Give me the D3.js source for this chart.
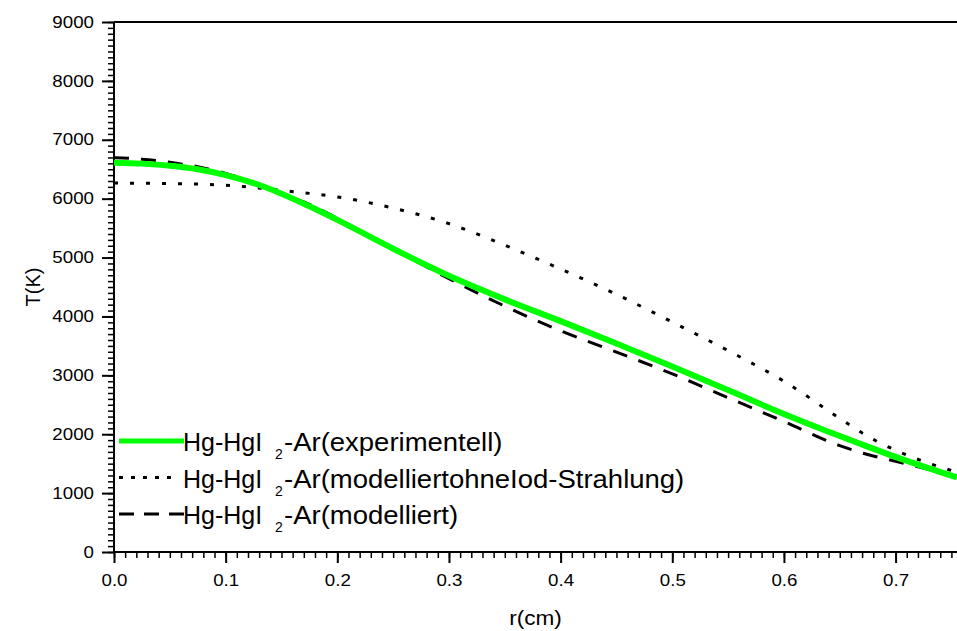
<html>
<head>
<script src="https://cdnjs.cloudflare.com/ajax/libs/d3/7.8.5/d3.min.js"></script>
<style>
body { margin: 0; background: white; }
text { font-family: Arial, "Liberation Sans", sans-serif; }
</style>
</head>
<body></body>
<script>
// data
var rValues = [0, 0.025, 0.05, 0.075, 0.1, 0.125, 0.15, 0.175, 0.2, 0.25, 0.3, 0.35, 0.4, 0.45, 0.5, 0.55, 0.6, 0.65, 0.675, 0.7, 0.755];
var tExperimentell = [6611, 6595, 6560, 6500, 6400, 6265, 6085, 5870, 5640, 5150, 4690, 4290, 3920, 3540, 3150, 2750, 2345, 1970, 1790, 1615, 1265];
var tOhneIod = [6265, 6262, 6257, 6248, 6228, 6190, 6140, 6090, 6030, 5840, 5575, 5210, 4805, 4375, 3905, 3420, 2900, 2270, 1965, 1728, 1355];
var tModelliert = [6695, 6670, 6617, 6543, 6430, 6278, 6085, 5905, 5665, 5150, 4640, 4175, 3755, 3395, 3025, 2620, 2215, 1806, 1655, 1540, 1282];
var xTicks = [0, 0.1, 0.2, 0.3, 0.4, 0.5, 0.6, 0.7];
var yTicks = [0, 1000, 2000, 3000, 4000, 5000, 6000, 7000, 8000, 9000];
var legendLabels = ["-Ar(experimentell)", "-Ar(modelliertohneIod-Strahlung)", "-Ar(modelliert)"];

var screen = {width: 957, height: 631};
var plot = {left: 114, right: 957, top: 22, bottom: 552};
var stretch = 1.17; // tick labels in the picture are drawn a bit wide

var svg = d3.select("body").append("svg")
  .attr("width", screen.width)
  .attr("height", screen.height);

var x = d3.scaleLinear().domain([0, 0.755]).range([plot.left, plot.right]);
var y = d3.scaleLinear().domain([0, 9000]).range([plot.bottom, plot.top]);

var minorX = d3.range(0, 0.7551, 0.01).map(function(v) { return +v.toFixed(2); });
var minorY = d3.range(0, 9001, 100);

function styleAxis(g, width) {
  g.select(".domain").remove();
  g.selectAll("line").attr("stroke", "black").attr("stroke-width", width);
  g.selectAll("text").attr("fill", "black").style("font-size", "16px");
}

// minor ticks
svg.append("g").attr("transform", "translate(0," + plot.bottom + ")")
  .call(d3.axisBottom(x).tickValues(minorX).tickSize(6).tickFormat(""))
  .call(styleAxis, 1.5);
svg.append("g").attr("transform", "translate(" + plot.left + ",0)")
  .call(d3.axisLeft(y).tickValues(minorY).tickSize(6).tickFormat(""))
  .call(styleAxis, 1.5);

// major ticks
svg.append("g").attr("transform", "translate(0," + plot.bottom + ")")
  .call(d3.axisBottom(x).tickValues(xTicks).tickSize(11).tickPadding(12).tickFormat(d3.format(".1f")))
  .call(styleAxis, 2)
  .selectAll("text").attr("transform", "scale(" + stretch + ",1)");
svg.append("g").attr("transform", "translate(" + plot.left + ",0)")
  .call(d3.axisLeft(y).tickValues(yTicks).tickSize(12).tickPadding(8).tickFormat(d3.format("d")))
  .call(styleAxis, 2)
  .selectAll("text").attr("x", -20 / stretch).attr("transform", "scale(" + stretch + ",1)");

// frame lines
svg.append("line").attr("x1", plot.left).attr("x2", plot.right).attr("y1", plot.bottom).attr("y2", plot.bottom)
  .attr("stroke", "black").attr("stroke-width", 2);
svg.append("line").attr("x1", plot.left).attr("x2", plot.right).attr("y1", plot.top).attr("y2", plot.top)
  .attr("stroke", "black").attr("stroke-width", 2);
svg.append("line").attr("x1", plot.left).attr("x2", plot.left).attr("y1", plot.top).attr("y2", plot.bottom)
  .attr("stroke", "black").attr("stroke-width", 2);

// axis titles
svg.append("text").attr("transform", "translate(" + (plot.left + plot.right) / 2 + ",625) scale(1.13,1)")
  .attr("text-anchor", "middle").style("font-size", "20px").text("r(cm)");
svg.append("text").attr("transform", "translate(40," + (plot.top + plot.bottom) / 2 + ") rotate(-90)")
  .attr("text-anchor", "middle").style("font-size", "20px").text("T(K)");

var series = [
  {values: tOhneIod, color: "black", width: 3, dash: "4,12", legendDash: "4,8"},
  {values: tModelliert, color: "black", width: 3, dash: "15,12", legendDash: "15,10"},
  {values: tExperimentell, color: "#00ff00", width: 6, dash: null, legendDash: null}
];

var line = d3.line()
  .x(function(d) { return x(d[0]); })
  .y(function(d) { return y(d[1]); })
  .curve(d3.curveMonotoneX);

svg.selectAll("path.curve").data(series).enter().append("path")
  .attr("class", "curve")
  .attr("d", function(s) { return line(rValues.map(function(r, i) { return [r, s.values[i]]; })); })
  .attr("fill", "none")
  .attr("stroke", function(s) { return s.color; })
  .attr("stroke-width", function(s) { return s.width; })
  .attr("stroke-dasharray", function(s) { return s.dash; });

// legend
var legendOrder = [series[2], series[0], series[1]];
var legend = svg.selectAll("g.legend").data(legendOrder).enter().append("g")
  .attr("class", "legend")
  .attr("transform", function(d, i) { return "translate(0," + (441 + i * 36.5) + ")"; });

legend.append("line")
  .attr("x1", 119).attr("x2", function(d, i) { return i === 1 ? 176 : 184; })
  .attr("y1", 0).attr("y2", 0)
  .attr("stroke", function(d) { return d.color; })
  .attr("stroke-width", function(d) { return d.width === 6 ? 5 : 3; })
  .attr("stroke-dasharray", function(d) { return d.legendDash; });

legend.append("text").attr("x", 183).attr("y", 10).style("font-size", "25px").text("Hg-HgI");
legend.append("text").attr("x", 275).attr("y", 18).style("font-size", "14px").text("2");
legend.append("text").attr("transform", "translate(284,10) scale(1.1,1)")
  .style("font-size", "25px")
  .text(function(d, i) { return legendLabels[i]; });
</script>
</html>
